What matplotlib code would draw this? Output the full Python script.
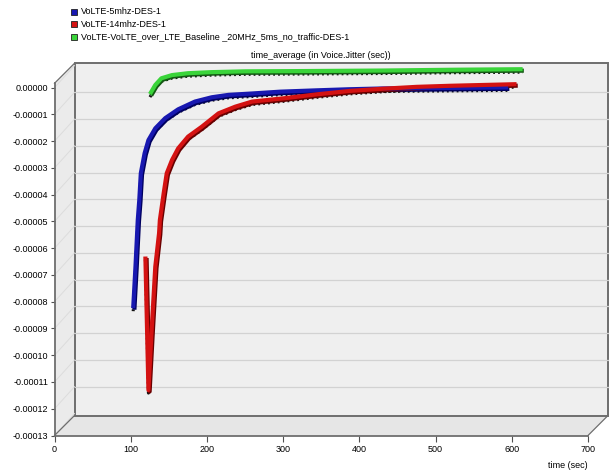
"""
VoLTE voice jitter - OPNET style pseudo 3D chart
"""

import numpy as np
import matplotlib.pyplot as plt
import matplotlib.transforms as mtransforms
from matplotlib.patches import Rectangle, Polygon

plt.rcParams['font.family'] = ['Liberation Sans', 'DejaVu Sans']

# --- DATA --- #
# time (sec) and time_average of Voice.Jitter (sec)
blue_t = [77, 80, 83, 85, 87, 92, 97, 106, 119, 136, 158, 180, 202, 232, 270,
          318, 360, 405, 450, 493, 530, 569]
blue_v = [-8.99e-5, -7.44e-5, -5.70e-5, -4.95e-5, -3.95e-5, -3.20e-5, -2.71e-5,
          -2.27e-5, -1.89e-5, -1.56e-5, -1.27e-5, -1.11e-5, -1.02e-5, -0.97e-5,
          -0.90e-5, -0.85e-5, -0.81e-5, -0.78e-5, -0.77e-5, -0.76e-5, -0.75e-5,
          -0.74e-5]

red_t = [93, 97, 101, 106, 111, 112, 117, 121, 128, 136, 149, 167, 189, 211,
         233, 274, 318, 362, 405, 449, 493, 536, 580]
red_v = [-7.06e-5, -12.05e-5, -9.92e-5, -7.44e-5, -6.18e-5, -5.70e-5, -4.70e-5,
         -3.95e-5, -3.45e-5, -3.02e-5, -2.58e-5, -2.21e-5, -1.71e-5, -1.46e-5,
         -1.27e-5, -1.15e-5, -1.00e-5, -0.87e-5, -0.79e-5, -0.72e-5, -0.68e-5,
         -0.65e-5, -0.62e-5]

green_t = [99, 106, 114, 128, 149, 180, 224, 300, 405, 500, 588]
green_v = [-0.99e-5, -0.65e-5, -0.40e-5, -0.28e-5, -0.21e-5, -0.17e-5,
           -0.14e-5, -0.13e-5, -0.11e-5, -0.08e-5, -0.06e-5]

labels = ['VoLTE-5mhz-DES-1', 'VoLTE-14mhz-DES-1',
          'VoLTE-VoLTE_over_LTE_Baseline _20MHz_5ms_no_traffic-DES-1']
colors = ['#1818b0', '#d41212', '#3ad43a']
dark_colors = ['#000060', '#6a0000', '#145a14']

x_ticks = [0, 100, 200, 300, 400, 500, 600, 700]
y_ticks = [0.0, -0.00001, -0.00002, -0.00003, -0.00004, -0.00005, -0.00006,
           -0.00007, -0.00008, -0.00009, -0.00010, -0.00011, -0.00012, -0.00013]

# --- FIGURE GEOMETRY (pixels) --- #
W, H = 611, 474
left, right, top, bottom = 54.5, 588.0, 83.3, 435.5
depth = 20.0  # back wall offset, px
grid_depth = 22.0

fig = plt.figure(figsize=(W / 100, H / 100), dpi=100)
ax = fig.add_axes([left / W, 1 - bottom / H, (right - left) / W, (bottom - top) / H])
ax.patch.set_visible(False)
ax.set_xlim(0, 700)
ax.set_ylim(-0.00013, 0.0000016)

dx = depth / (right - left)
dy = depth / (bottom - top)
gdy = grid_depth / (bottom - top)
px = lambda a, b: mtransforms.ScaledTranslation(a / 100, b / 100, fig.dpi_scale_trans)
back = ax.transData + px(depth, depth)
grid_tr = ax.transData + px(depth, grid_depth)

frame_col = '#6e6e6e'

# floor and side wall
ax.add_patch(Polygon([(0, 0), (dx, dy), (1 + dx, dy), (1, 0)], closed=True,
                     transform=ax.transAxes, fc='#e6e6e6', ec='none', clip_on=False, zorder=0))
ax.add_patch(Polygon([(0, 0), (0, 1), (dx, 1 + dy), (dx, dy)], closed=True,
                     transform=ax.transAxes, fc='#ebebeb', ec='none', clip_on=False, zorder=0))
# back wall
ax.add_patch(Rectangle((dx, dy), 1, 1, transform=ax.transAxes, fc='#efefef',
                       ec=frame_col, lw=1.4, clip_on=False, zorder=0.5))

# grid lines on back wall and faint diagonals on side wall
ylo, yhi = ax.get_ylim()
for v in y_ticks:
    frac = (v - ylo) / (yhi - ylo)
    if -0.000125 < v < 0:
        ax.plot([0, 700], [v, v], transform=grid_tr, color='#d2d2d2', lw=0.9,
                clip_on=False, zorder=0.6)
    ax.plot([0, dx], [frac, frac + gdy], transform=ax.transAxes, color='#dcdcdc',
            lw=0.7, clip_on=False, zorder=0.6)

# diagonal edges
for (x0, y0) in [(0, 0), (0, 1), (1, 0)]:
    ax.plot([x0, x0 + dx], [y0, y0 + dy], transform=ax.transAxes, color=frame_col,
            lw=0.9, clip_on=False, zorder=0.7)

# --- SERIES (3D ribbons) --- #
series = [(blue_t, blue_v), (red_t, red_v), (green_t, green_v)]
for (t, v), c, dc in zip(series, colors, dark_colors):
    # dark teeth under the ribbon
    ax.plot(t, v, transform=back + px(0, -3), color='#111111', lw=2.2,
            ls=(0, (0.6, 1.0)), clip_on=False, zorder=2)
    # shaded side of the ribbon
    ax.plot(t, v, transform=back + px(1.2, -1.5), color=dc, lw=3.0,
            solid_capstyle='butt', clip_on=False, zorder=3)
    ax.plot(t, v, transform=back, color=c, lw=3.0, solid_capstyle='butt',
            clip_on=False, zorder=4)

# --- AXES STYLE --- #
for s in ['top', 'right']:
    ax.spines[s].set_visible(False)
for s in ['left', 'bottom']:
    ax.spines[s].set_color(frame_col)
    ax.spines[s].set_linewidth(1.3)

ax.set_xticks(x_ticks)
ax.set_xticklabels([str(x) for x in x_ticks])
ax.set_yticks(y_ticks)
ax.set_yticklabels([f"{v:.5f}" for v in y_ticks])
ax.tick_params(axis='both', direction='out', colors='#505050', labelcolor='black',
               labelsize=6.5, width=0.8)
ax.tick_params(axis='y', length=3, pad=1.5)
ax.tick_params(axis='x', length=4, pad=3)
ax.set_xlabel('time (sec)', loc='right', fontsize=6.5, labelpad=5)

# title and legend
fig.text(321 / W, 1 - 56 / H, 'time_average (in Voice.Jitter (sec))', ha='center',
         va='center', fontsize=6.5)
for i, (lab, c) in enumerate(zip(labels, colors)):
    yc = 11.7 + i * 12.5
    fig.add_artist(Rectangle((71 / W, 1 - (yc + 3) / H), 6 / W, 6 / H,
                             transform=fig.transFigure, fc=c, ec='#202020', lw=0.6))
    fig.text(81 / W, 1 - yc / H, lab, ha='left', va='center', fontsize=6.5)

fig.savefig('out.png', dpi=100)
